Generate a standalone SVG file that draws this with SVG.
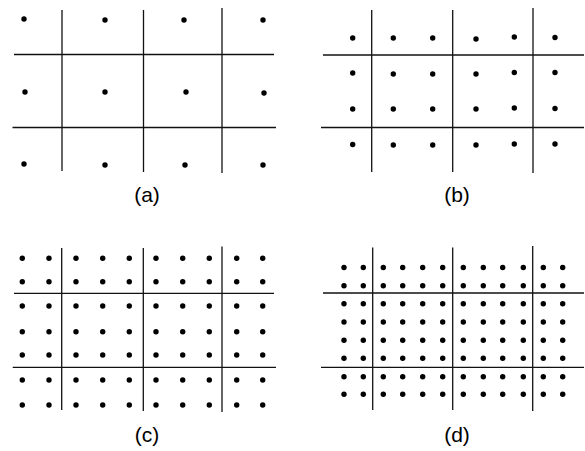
<svg xmlns="http://www.w3.org/2000/svg" width="585" height="451" viewBox="0 0 585 451">
<style>
.ln{stroke:#111;stroke-width:1.3;fill:none}
.d{fill:#000}
.lb{font-family:"Liberation Sans",Arial,sans-serif;font-size:21px;fill:#000;text-anchor:middle}
</style>
<rect width="585" height="451" fill="#fff"/>
<g id="panel-a">
<g class="ln">
<line x1="62" y1="10" x2="62" y2="171"/>
<line x1="143.5" y1="10" x2="143.5" y2="172"/>
<line x1="222" y1="8" x2="222" y2="173"/>
<line x1="14" y1="54.5" x2="274" y2="54.5"/>
<line x1="12.5" y1="127.5" x2="276" y2="127.5"/>
</g>
<g class="d">
<circle cx="24" cy="19" r="2.7"/><circle cx="105" cy="20" r="2.7"/><circle cx="184" cy="20" r="2.7"/><circle cx="263" cy="20" r="2.7"/>
<circle cx="25" cy="92" r="2.7"/><circle cx="105" cy="92" r="2.7"/><circle cx="186" cy="92" r="2.7"/><circle cx="264" cy="93" r="2.7"/>
<circle cx="24" cy="164" r="2.7"/><circle cx="105" cy="165" r="2.7"/><circle cx="185" cy="165" r="2.7"/><circle cx="263" cy="165" r="2.7"/>
</g>
<text class="lb" x="147" y="201.5">(a)</text>
</g>
<g id="panel-b">
<g class="ln">
<line x1="371.7" y1="10" x2="371.7" y2="172"/>
<line x1="452.7" y1="10" x2="452.7" y2="172"/>
<line x1="533" y1="8" x2="533" y2="173"/>
<line x1="323" y1="55" x2="584" y2="55"/>
<line x1="321" y1="127.5" x2="584" y2="127.5"/>
</g>
<g class="d">
<circle cx="352.7" cy="38" r="2.7"/><circle cx="393.3" cy="38" r="2.7"/><circle cx="432.7" cy="38" r="2.7"/><circle cx="476" cy="39" r="2.7"/><circle cx="514.3" cy="37" r="2.7"/><circle cx="555" cy="37.5" r="2.7"/>
<circle cx="352.7" cy="73" r="2.7"/><circle cx="393.3" cy="74" r="2.7"/><circle cx="432.7" cy="74" r="2.7"/><circle cx="476" cy="74" r="2.7"/><circle cx="514.3" cy="72.5" r="2.7"/><circle cx="555" cy="72.5" r="2.7"/>
<circle cx="352.7" cy="109" r="2.7"/><circle cx="393.3" cy="109" r="2.7"/><circle cx="432.7" cy="109" r="2.7"/><circle cx="476" cy="109" r="2.7"/><circle cx="514.3" cy="108" r="2.7"/><circle cx="555" cy="108.5" r="2.7"/>
<circle cx="352.7" cy="144.5" r="2.7"/><circle cx="393.3" cy="145" r="2.7"/><circle cx="432.7" cy="145" r="2.7"/><circle cx="476" cy="145" r="2.7"/><circle cx="514.3" cy="144" r="2.7"/><circle cx="555" cy="144" r="2.7"/>
</g>
<text class="lb" x="457" y="201.5">(b)</text>
</g>
<g id="panel-c">
<g class="ln">
<line x1="61.7" y1="248" x2="61.7" y2="410"/>
<line x1="143.3" y1="248" x2="143.3" y2="411"/>
<line x1="222" y1="246.5" x2="222" y2="412"/>
<line x1="14" y1="293.3" x2="274" y2="293.3"/>
<line x1="12.7" y1="367.3" x2="276" y2="367.3"/>
</g>
<g class="d">
<circle cx="22.3" cy="258.3" r="2.7"/><circle cx="49" cy="258.3" r="2.7"/><circle cx="76" cy="258.3" r="2.7"/><circle cx="102.7" cy="258.3" r="2.7"/><circle cx="129.3" cy="258.3" r="2.7"/><circle cx="156" cy="258.3" r="2.7"/><circle cx="182.7" cy="258.3" r="2.7"/><circle cx="209.3" cy="258.3" r="2.7"/><circle cx="236.7" cy="258.3" r="2.7"/><circle cx="262.7" cy="258.3" r="2.7"/>
<circle cx="22.3" cy="281.7" r="2.7"/><circle cx="49" cy="281.7" r="2.7"/><circle cx="76" cy="281.7" r="2.7"/><circle cx="102.7" cy="281.7" r="2.7"/><circle cx="129.3" cy="281.7" r="2.7"/><circle cx="156" cy="281.7" r="2.7"/><circle cx="182.7" cy="281.7" r="2.7"/><circle cx="209.3" cy="281.7" r="2.7"/><circle cx="236.7" cy="281.7" r="2.7"/><circle cx="262.7" cy="281.7" r="2.7"/>
<circle cx="22.3" cy="306" r="2.7"/><circle cx="49" cy="306" r="2.7"/><circle cx="76" cy="306" r="2.7"/><circle cx="102.7" cy="306" r="2.7"/><circle cx="129.3" cy="306" r="2.7"/><circle cx="156" cy="306" r="2.7"/><circle cx="182.7" cy="306" r="2.7"/><circle cx="209.3" cy="306" r="2.7"/><circle cx="236.7" cy="306" r="2.7"/><circle cx="262.7" cy="306" r="2.7"/>
<circle cx="22.3" cy="331.7" r="2.7"/><circle cx="49" cy="331.7" r="2.7"/><circle cx="76" cy="331.7" r="2.7"/><circle cx="102.7" cy="331.7" r="2.7"/><circle cx="129.3" cy="331.7" r="2.7"/><circle cx="156" cy="331.7" r="2.7"/><circle cx="182.7" cy="331.7" r="2.7"/><circle cx="209.3" cy="331.7" r="2.7"/><circle cx="236.7" cy="331.7" r="2.7"/><circle cx="262.7" cy="331.7" r="2.7"/>
<circle cx="22.3" cy="355" r="2.7"/><circle cx="49" cy="355" r="2.7"/><circle cx="76" cy="355" r="2.7"/><circle cx="102.7" cy="355" r="2.7"/><circle cx="129.3" cy="355" r="2.7"/><circle cx="156" cy="355" r="2.7"/><circle cx="182.7" cy="355" r="2.7"/><circle cx="209.3" cy="355" r="2.7"/><circle cx="236.7" cy="355" r="2.7"/><circle cx="262.7" cy="355" r="2.7"/>
<circle cx="22.3" cy="380" r="2.7"/><circle cx="49" cy="380" r="2.7"/><circle cx="76" cy="380" r="2.7"/><circle cx="102.7" cy="380" r="2.7"/><circle cx="129.3" cy="380" r="2.7"/><circle cx="156" cy="380" r="2.7"/><circle cx="182.7" cy="380" r="2.7"/><circle cx="209.3" cy="380" r="2.7"/><circle cx="236.7" cy="380" r="2.7"/><circle cx="262.7" cy="380" r="2.7"/>
<circle cx="22.3" cy="405" r="2.7"/><circle cx="49" cy="405" r="2.7"/><circle cx="76" cy="405" r="2.7"/><circle cx="102.7" cy="405" r="2.7"/><circle cx="129.3" cy="405" r="2.7"/><circle cx="156" cy="405" r="2.7"/><circle cx="182.7" cy="405" r="2.7"/><circle cx="209.3" cy="405" r="2.7"/><circle cx="236.7" cy="405" r="2.7"/><circle cx="262.7" cy="405" r="2.7"/>
</g>
<text class="lb" x="147" y="441.5">(c)</text>
</g>
<g id="panel-d">
<g class="ln">
<line x1="372.7" y1="247.5" x2="372.7" y2="410"/>
<line x1="452.7" y1="247.5" x2="452.7" y2="410"/>
<line x1="532.7" y1="246" x2="532.7" y2="411"/>
<line x1="323" y1="293" x2="584" y2="293"/>
<line x1="321" y1="367.3" x2="584" y2="367.3"/>
</g>
<g class="d">
<circle cx="344" cy="267.5" r="2.7"/><circle cx="363.3" cy="267.5" r="2.7"/><circle cx="383.3" cy="267.5" r="2.7"/><circle cx="402.7" cy="267.5" r="2.7"/><circle cx="422.7" cy="267.5" r="2.7"/><circle cx="442.7" cy="267.5" r="2.7"/><circle cx="463.3" cy="267.5" r="2.7"/><circle cx="483.3" cy="267.5" r="2.7"/><circle cx="502.7" cy="267.5" r="2.7"/><circle cx="523.3" cy="267.5" r="2.7"/><circle cx="543.3" cy="267.5" r="2.7"/><circle cx="562.7" cy="267.5" r="2.7"/>
<circle cx="344" cy="285.7" r="2.7"/><circle cx="363.3" cy="285.7" r="2.7"/><circle cx="383.3" cy="285.7" r="2.7"/><circle cx="402.7" cy="285.7" r="2.7"/><circle cx="422.7" cy="285.7" r="2.7"/><circle cx="442.7" cy="285.7" r="2.7"/><circle cx="463.3" cy="285.7" r="2.7"/><circle cx="483.3" cy="285.7" r="2.7"/><circle cx="502.7" cy="285.7" r="2.7"/><circle cx="523.3" cy="285.7" r="2.7"/><circle cx="543.3" cy="285.7" r="2.7"/><circle cx="562.7" cy="285.7" r="2.7"/>
<circle cx="344" cy="303.7" r="2.7"/><circle cx="363.3" cy="303.7" r="2.7"/><circle cx="383.3" cy="303.7" r="2.7"/><circle cx="402.7" cy="303.7" r="2.7"/><circle cx="422.7" cy="303.7" r="2.7"/><circle cx="442.7" cy="303.7" r="2.7"/><circle cx="463.3" cy="303.7" r="2.7"/><circle cx="483.3" cy="303.7" r="2.7"/><circle cx="502.7" cy="303.7" r="2.7"/><circle cx="523.3" cy="303.7" r="2.7"/><circle cx="543.3" cy="303.7" r="2.7"/><circle cx="562.7" cy="303.7" r="2.7"/>
<circle cx="344" cy="322" r="2.7"/><circle cx="363.3" cy="322" r="2.7"/><circle cx="383.3" cy="322" r="2.7"/><circle cx="402.7" cy="322" r="2.7"/><circle cx="422.7" cy="322" r="2.7"/><circle cx="442.7" cy="322" r="2.7"/><circle cx="463.3" cy="322" r="2.7"/><circle cx="483.3" cy="322" r="2.7"/><circle cx="502.7" cy="322" r="2.7"/><circle cx="523.3" cy="322" r="2.7"/><circle cx="543.3" cy="322" r="2.7"/><circle cx="562.7" cy="322" r="2.7"/>
<circle cx="344" cy="340.3" r="2.7"/><circle cx="363.3" cy="340.3" r="2.7"/><circle cx="383.3" cy="340.3" r="2.7"/><circle cx="402.7" cy="340.3" r="2.7"/><circle cx="422.7" cy="340.3" r="2.7"/><circle cx="442.7" cy="340.3" r="2.7"/><circle cx="463.3" cy="340.3" r="2.7"/><circle cx="483.3" cy="340.3" r="2.7"/><circle cx="502.7" cy="340.3" r="2.7"/><circle cx="523.3" cy="340.3" r="2.7"/><circle cx="543.3" cy="340.3" r="2.7"/><circle cx="562.7" cy="340.3" r="2.7"/>
<circle cx="344" cy="358.3" r="2.7"/><circle cx="363.3" cy="358.3" r="2.7"/><circle cx="383.3" cy="358.3" r="2.7"/><circle cx="402.7" cy="358.3" r="2.7"/><circle cx="422.7" cy="358.3" r="2.7"/><circle cx="442.7" cy="358.3" r="2.7"/><circle cx="463.3" cy="358.3" r="2.7"/><circle cx="483.3" cy="358.3" r="2.7"/><circle cx="502.7" cy="358.3" r="2.7"/><circle cx="523.3" cy="358.3" r="2.7"/><circle cx="543.3" cy="358.3" r="2.7"/><circle cx="562.7" cy="358.3" r="2.7"/>
<circle cx="344" cy="376.7" r="2.7"/><circle cx="363.3" cy="376.7" r="2.7"/><circle cx="383.3" cy="376.7" r="2.7"/><circle cx="402.7" cy="376.7" r="2.7"/><circle cx="422.7" cy="376.7" r="2.7"/><circle cx="442.7" cy="376.7" r="2.7"/><circle cx="463.3" cy="376.7" r="2.7"/><circle cx="483.3" cy="376.7" r="2.7"/><circle cx="502.7" cy="376.7" r="2.7"/><circle cx="523.3" cy="376.7" r="2.7"/><circle cx="543.3" cy="376.7" r="2.7"/><circle cx="562.7" cy="376.7" r="2.7"/>
<circle cx="344" cy="394.3" r="2.7"/><circle cx="363.3" cy="394.3" r="2.7"/><circle cx="383.3" cy="394.3" r="2.7"/><circle cx="402.7" cy="394.3" r="2.7"/><circle cx="422.7" cy="394.3" r="2.7"/><circle cx="442.7" cy="394.3" r="2.7"/><circle cx="463.3" cy="394.3" r="2.7"/><circle cx="483.3" cy="394.3" r="2.7"/><circle cx="502.7" cy="394.3" r="2.7"/><circle cx="523.3" cy="394.3" r="2.7"/><circle cx="543.3" cy="394.3" r="2.7"/><circle cx="562.7" cy="394.3" r="2.7"/>
</g>
<text class="lb" x="457" y="441.5">(d)</text>
</g>
</svg>
